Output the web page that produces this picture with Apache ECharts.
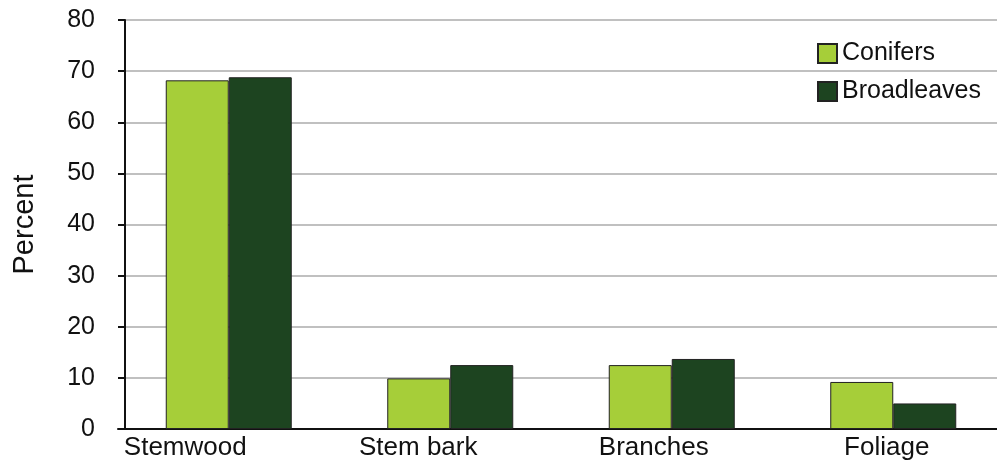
<!DOCTYPE html>
<html>
<head>
<meta charset="utf-8">
<script src="https://cdn.jsdelivr.net/npm/echarts@6/dist/echarts.min.js"></script>
<style>
	html, body { margin: 0; padding: 0; background: #fff; }
	#chart { width: 997px; height: 466px; }
</style>
</head>
<body>
<div id="chart"></div>
<script>
const categories = ["Stemwood", "Stem bark", "Branches", "Foliage"];
const conifers = [68.2, 9.9, 12.5, 9.2];
const broadleaves = [68.8, 12.5, 13.7, 5.0];
const yTicks = [0, 80, 10]; // min, max, step

// labels in the source sit a bit left of their bars
const labelShift = [87, 64, 36, 13];

const font = "'Liberation Sans', Arial, Helvetica, sans-serif";
const barBorder = {
	borderColor: "#222222",
	borderWidth: 1,
};

const option = {
	animation: false,
	backgroundColor: "#ffffff",
	textStyle: { fontFamily: font },
	grid: {
		left: 118,
		right: -7,
		top: 20,
		bottom: 37,
		containLabel: false,
		outerBoundsMode: "none",
	},
	legend: {
		orient: "vertical",
		left: 817,
		top: 41,
		padding: 0,
		itemWidth: 19,
		itemHeight: 19,
		itemGap: 13,
		icon: "rect",
		textStyle: {
			fontSize: 25,
			color: "#111",
			fontFamily: font,
		},
		data: ["Conifers", "Broadleaves"],
	},
	xAxis: {
		type: "category",
		data: categories.map((c, i) => ({
			value: c,
			textStyle: { padding: [0, labelShift[i], 0, 0] },
		})),
		axisLine: { lineStyle: { color: "#111", width: 2 } },
		axisTick: { show: false },
		axisLabel: {
			fontSize: 26,
			color: "#111",
			margin: 6,
			interval: 0,
		},
	},
	yAxis: {
		type: "value",
		min: yTicks[0],
		max: yTicks[1],
		interval: yTicks[2],
		offset: -7,
		name: "Percent",
		nameLocation: "middle",
		nameGap: 86,
		nameTextStyle: { fontSize: 29, color: "#111" },
		axisLine: { show: true, lineStyle: { color: "#111", width: 2 } },
		axisTick: { show: true, length: 7, lineStyle: { color: "#111", width: 2 } },
		axisLabel: { fontSize: 25, color: "#111", margin: 30 },
		splitLine: { lineStyle: { color: "#c0c0c0", width: 2 } },
	},
	series: [
		{
			name: "Conifers",
			type: "bar",
			data: conifers,
			barWidth: 63,
			barGap: "0%",
			itemStyle: Object.assign({ color: "#a6ce39" }, barBorder),
		},
		{
			name: "Broadleaves",
			type: "bar",
			data: broadleaves,
			barWidth: 63,
			barGap: "0%",
			itemStyle: Object.assign({ color: "#1d4420" }, barBorder),
		},
	],
};

const chart = echarts.init(document.getElementById("chart"));
chart.setOption(option);
</script>
</body>
</html>
